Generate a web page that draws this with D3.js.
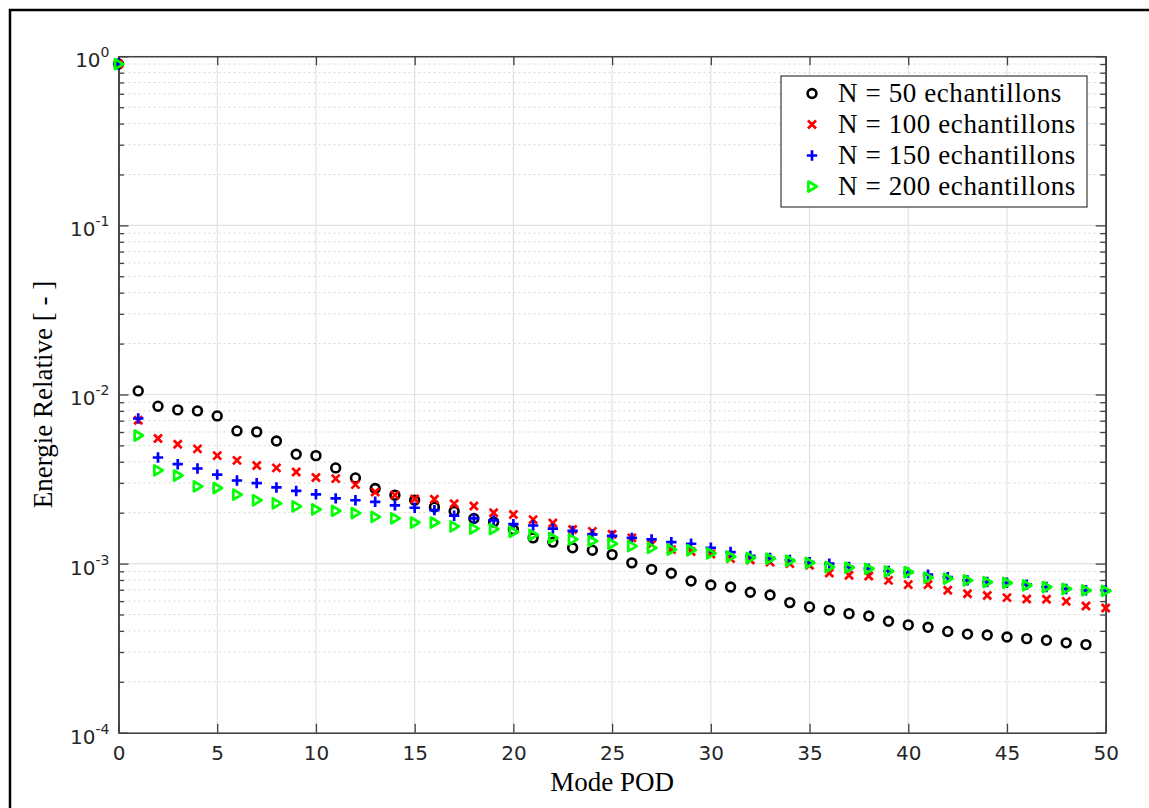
<!DOCTYPE html>
<html>
<head>
<meta charset="utf-8">
<script src="https://cdn.jsdelivr.net/npm/d3@7"></script>
<style>
  body { margin: 0; background: #fff; }
  svg { display: block; }
</style>
</head>
<body>
<script>
// modes POD (axe x)
var modes = d3.range(0, 51);

// energie relative
var n50 = [0.90, 0.0105, 0.00853, 0.00811, 0.00800, 0.00747, 0.00609, 0.00601, 0.00531, 0.00443,
  0.00435, 0.00368, 0.00321, 0.00278, 0.00254, 0.00237, 0.00216, 0.00204, 0.00185, 0.00176,
  0.00159, 0.00142, 0.00134, 0.00124, 0.00120, 0.00113, 0.00101, 0.000925, 0.000877, 0.000789,
  0.000747, 0.000727, 0.000677, 0.000652, 0.000588, 0.000554, 0.000531, 0.000506, 0.000490, 0.000456,
  0.000434, 0.000420, 0.000397, 0.000383, 0.000378, 0.000368, 0.000360, 0.000352, 0.000340, 0.000332];

var n100 = [0.90, 0.00705, 0.00549, 0.00508, 0.00477, 0.00435, 0.00408, 0.00380, 0.00368, 0.00348,
  0.00323, 0.00318, 0.00293, 0.00265, 0.00254, 0.00241, 0.00240, 0.00226, 0.00219, 0.00200,
  0.00195, 0.00182, 0.00174, 0.00159, 0.00155, 0.00149, 0.00142, 0.00130, 0.00121, 0.00118,
  0.00114, 0.00107, 0.00105, 0.00102, 0.00100, 0.000977, 0.000880, 0.000853, 0.000845, 0.000796,
  0.000751, 0.000751, 0.000695, 0.000664, 0.000647, 0.000629, 0.000617, 0.000615, 0.000598, 0.000561,
  0.000546];

var n150 = [0.90, 0.00721, 0.00424, 0.00387, 0.00365, 0.00336, 0.00310, 0.00299, 0.00282, 0.00269,
  0.00257, 0.00243, 0.00237, 0.00232, 0.00221, 0.00214, 0.00207, 0.00192, 0.00185, 0.00180,
  0.00171, 0.00168, 0.00161, 0.00156, 0.00149, 0.00146, 0.00142, 0.00139, 0.00134, 0.00131,
  0.00124, 0.00117, 0.00111, 0.00108, 0.00105, 0.00102, 0.00100, 0.000955, 0.000934, 0.000904,
  0.000884, 0.000860, 0.000832, 0.000796, 0.000778, 0.000770, 0.000751, 0.000727, 0.000708, 0.000695,
  0.000695];

var n200 = [0.90, 0.00572, 0.00356, 0.00332, 0.00286, 0.00280, 0.00256, 0.00237, 0.00227, 0.00218,
  0.00209, 0.00205, 0.00199, 0.00189, 0.00185, 0.00175, 0.00175, 0.00166, 0.00161, 0.00160,
  0.00154, 0.00148, 0.00142, 0.00139, 0.00136, 0.00131, 0.00127, 0.00124, 0.00121, 0.00120,
  0.00115, 0.00110, 0.00108, 0.00107, 0.00104, 0.00101, 0.000955, 0.000946, 0.000932, 0.000900,
  0.000892, 0.000826, 0.000815, 0.000796, 0.000778, 0.000770, 0.000744, 0.000727, 0.000708, 0.000695,
  0.000690];

var legendLabels = ["N = 50 echantillons", "N = 100 echantillons", "N = 150 echantillons", "N = 200 echantillons"];
var xTicks = [0, 5, 10, 15, 20, 25, 30, 35, 40, 45, 50];
var yExps = [0, -1, -2, -3, -4];

var series = [
  { name: legendLabels[0], values: n50, color: "#000000", shape: "o" },
  { name: legendLabels[1], values: n100, color: "#ff0000", shape: "x" },
  { name: legendLabels[2], values: n150, color: "#0000ff", shape: "+" },
  { name: legendLabels[3], values: n200, color: "#00ff00", shape: ">" }
];

var W = 1149, H = 808;
var margin = { top: 56.3, right: 43.3, bottom: 75.3, left: 118.5 },
  width = W - margin.left - margin.right,
  height = H - margin.top - margin.bottom;

var axisColor = "#404040";

var x = d3.scaleLinear().domain([0, 50]).range([0, width]);
var y = d3.scaleLog().domain([1e-4, 1]).range([height, 0]);

var yMajor = yExps.map(function (e) { return Math.pow(10, e); });
var yMinor = [];
[-4, -3, -2, -1].forEach(function (e) {
  for (var k = 2; k <= 9; k++) yMinor.push(k * Math.pow(10, e));
});

var svg = d3.select("body").append("svg")
  .attr("width", W)
  .attr("height", H);

// cadre exterieur
svg.append("rect")
  .attr("x", 10).attr("y", 10)
  .attr("width", W + 20).attr("height", H + 20)
  .attr("fill", "none")
  .attr("stroke", "#000")
  .attr("stroke-width", 2.5);

var g = svg.append("g")
  .attr("transform", "translate(" + margin.left + "," + margin.top + ")");

// grille mineure (y)
g.selectAll(".minor-grid")
  .data(yMinor)
  .enter().append("line")
  .attr("x1", 0).attr("x2", width)
  .attr("y1", function (d) { return y(d); })
  .attr("y2", function (d) { return y(d); })
  .attr("stroke", "#d6d6d6")
  .attr("stroke-width", 1)
  .attr("stroke-dasharray", "2,3");

// grille majeure
g.selectAll(".xgrid")
  .data(xTicks)
  .enter().append("line")
  .attr("x1", function (d) { return x(d); })
  .attr("x2", function (d) { return x(d); })
  .attr("y1", 0).attr("y2", height)
  .attr("stroke", "#e2e2e2")
  .attr("stroke-width", 1.2);

g.selectAll(".ygrid")
  .data(yMajor)
  .enter().append("line")
  .attr("x1", 0).attr("x2", width)
  .attr("y1", function (d) { return y(d); })
  .attr("y2", function (d) { return y(d); })
  .attr("stroke", "#e2e2e2")
  .attr("stroke-width", 1.2);

// axes
function styleAxis(sel) {
  sel.select(".domain").attr("stroke", axisColor).attr("stroke-width", 1.5);
  sel.selectAll(".tick line").attr("stroke", axisColor).attr("stroke-width", 1.3);
  sel.selectAll("text")
    .attr("fill", "#262626")
    .style("font-family", "'DejaVu Sans', sans-serif")
    .style("font-size", "20px");
}

var xAxis = g.append("g")
  .attr("transform", "translate(0," + height + ")")
  .call(d3.axisBottom(x).tickValues(xTicks).tickSize(-9).tickPadding(13).tickSizeOuter(0));
xAxis.call(styleAxis);

var xAxisTop = g.append("g")
  .call(d3.axisTop(x).tickValues(xTicks).tickSize(-9).tickFormat("").tickSizeOuter(0));
xAxisTop.call(styleAxis);

var yAxis = g.append("g")
  .call(d3.axisLeft(y).tickValues(yMajor).tickSize(-10).tickFormat("").tickSizeOuter(0));
yAxis.call(styleAxis);
var yAxisMinor = g.append("g")
  .call(d3.axisLeft(y).tickValues(yMinor).tickSize(-5.5).tickFormat("").tickSizeOuter(0));
yAxisMinor.call(styleAxis);

var yAxisR = g.append("g")
  .attr("transform", "translate(" + width + ",0)")
  .call(d3.axisRight(y).tickValues(yMajor).tickSize(-10).tickFormat("").tickSizeOuter(0));
yAxisR.call(styleAxis);
var yAxisRMinor = g.append("g")
  .attr("transform", "translate(" + width + ",0)")
  .call(d3.axisRight(y).tickValues(yMinor).tickSize(-5.5).tickFormat("").tickSizeOuter(0));
yAxisRMinor.call(styleAxis);

// etiquettes 10^n
var yLab = g.selectAll(".ylab")
  .data(yExps)
  .enter().append("text")
  .attr("x", -9)
  .attr("y", function (d) { return y(Math.pow(10, d)) + 11; })
  .attr("text-anchor", "end")
  .attr("fill", "#262626")
  .style("font-family", "'DejaVu Sans', sans-serif");
yLab.append("tspan")
  .style("font-size", "20px")
  .text("10");
yLab.append("tspan")
  .attr("dy", -10)
  .style("font-size", "14px")
  .text(function (d) { return d; });

// marqueurs
var markerPath = {
  "x": "M-4,-4L4,4M-4,4L4,-4",
  "+": "M-5.2,0L5.2,0M0,-5.2L0,5.2",
  ">": "M-3.6,-5L4.8,0L-3.6,5Z"
};

function drawMarker(sel, s) {
  if (s.shape === "o") {
    sel.append("circle")
      .attr("r", 4.4)
      .attr("fill", "none")
      .attr("stroke", s.color)
      .attr("stroke-width", 2.6);
  } else {
    sel.append("path")
      .attr("d", markerPath[s.shape])
      .attr("fill", "none")
      .attr("stroke", s.color)
      .attr("stroke-width", 2.7)
      .attr("stroke-linejoin", "round");
  }
}

series.forEach(function (s) {
  g.append("g").selectAll("g")
    .data(s.values)
    .enter().append("g")
    .attr("transform", function (d, i) { return "translate(" + x(modes[i]) + "," + y(d) + ")"; })
    .each(function () { drawMarker(d3.select(this), s); });
});

// legende
var legend = svg.append("g");
legend.append("rect")
  .attr("x", 781).attr("y", 76)
  .attr("width", 306).attr("height", 131)
  .attr("fill", "#fff")
  .attr("stroke", "#4a4a4a")
  .attr("stroke-width", 1.3);

series.forEach(function (s, i) {
  var row = legend.append("g")
    .attr("transform", "translate(0," + (93.5 + i * 31) + ")");
  row.append("g")
    .attr("transform", "translate(812,0)")
    .call(function (sel) { drawMarker(sel, s); });
  row.append("text")
    .attr("x", 838)
    .attr("y", 8.5)
    .attr("fill", "#000")
    .style("font-family", "'Liberation Serif', 'DejaVu Serif', serif")
    .style("font-size", "27px")
    .style("letter-spacing", "0.6px")
    .text(s.name);
});

// titres des axes
svg.append("text")
  .attr("x", margin.left + width / 2)
  .attr("y", 791)
  .attr("text-anchor", "middle")
  .attr("fill", "#000")
  .style("font-family", "'Liberation Serif', 'DejaVu Serif', serif")
  .style("font-size", "27px")
  .text("Mode POD");

svg.append("text")
  .attr("transform", "translate(52," + (margin.top + height / 2) + ") rotate(-90)")
  .attr("text-anchor", "middle")
  .attr("fill", "#000")
  .style("font-family", "'Liberation Serif', 'DejaVu Serif', serif")
  .style("font-size", "27px")
  .text("Energie Relative [ - ]");
</script>
</body>
</html>
